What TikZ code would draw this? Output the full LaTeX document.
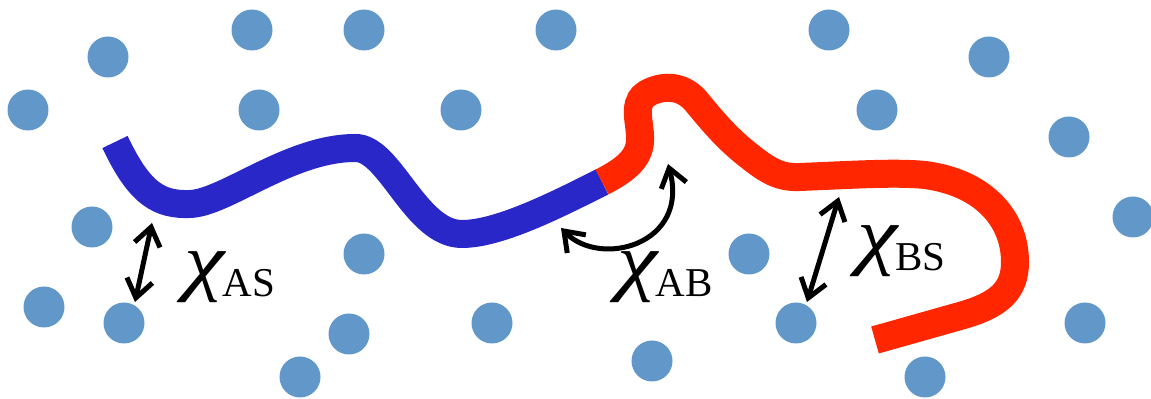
\documentclass[tikz,border=0pt]{standalone}
\usepackage{fontspec}
\setmainfont{Liberation Serif}
\usepackage{tikz}
\usetikzlibrary{arrows.meta,positioning}
\definecolor{Solvent}{HTML}{6297C9}
\definecolor{BlockA}{HTML}{2A27C9}
\definecolor{BlockB}{HTML}{FF2600}
\newcommand{\chilabel}[1]{\scalebox{1.2}[1]{\fontsize{38pt}{38pt}\selectfont\itshape χ}\kern-1pt\raisebox{-5pt}{\fontsize{20.5pt}{20.5pt}\selectfont #1}}

\begin{document}
\begin{tikzpicture}[
  x=0.5pt,y=-0.5pt,
  dot/.style={fill=Solvent},
  chain/.style={line width=14pt},
  arrow/.style={{Straight Barb[length=9pt,width=13pt]}-{Straight Barb[length=9pt,width=13pt]},line width=2.5pt,line cap=round,line join=round},
  lbl/.style={anchor=base west,inner sep=0pt}
]
\useasboundingbox (0,0) rectangle (1151,399);
% solvent beads
\foreach \px/\py in {28/110,108/57,252/30,364/30,556/30,259/110,461/110,
  829/30,989/57,877/110,1069/137,92/227,44/307,124/323,364/254,349/334,
  300/377,492/323,1133/217,749/254,796/323,652/361,925/377,1085/323}
  \fill[dot] (\px,\py) circle (20.5);
% block A
\draw[chain,draw=BlockA] (115,142) .. controls (140,195) and (160,205) .. (190,204)
  .. controls (225,203) and (290,148) .. (355,148)
  .. controls (390,147) and (415,234) .. (462,234)
  .. controls (500,234) and (560,203) .. (602,182);
% block B
\draw[chain,draw=BlockB] (602,182) .. controls (625,170) and (642,158) .. (640,135)
  .. controls (639,118) and (632,100) .. (650,92)
  .. controls (665,85) and (682,86) .. (695,100)
  .. controls (710,118) and (725,137) .. (748,155)
  .. controls (768,171) and (780,178) .. (800,177)
  .. controls (850,175) and (895,172) .. (925,175)
  .. controls (985,183) and (1015,220) .. (1015,262)
  .. controls (1015,290) and (1000,305) .. (960,316)
  -- (875,340);
% interaction arrows
\coordinate (as1) at (152,223);
\coordinate (as2) at (135,302);
\coordinate (ab1) at (561,228);
\coordinate (ab2) at (668,164);
\coordinate (bs1) at (839,197);
\coordinate (bs2) at (807,302);
\draw[arrow] (as1) -- (as2);
\draw[arrow] (ab1) .. controls (600,268) and (690,245) .. (ab2);
\draw[arrow] (bs1) -- (bs2);
\node[lbl] (chiAS) at (184,287) {\chilabel{AS}};
\node[lbl] (chiAB) at (617,287) {\chilabel{AB}};
\node[lbl] (chiBS) at (857,261) {\chilabel{BS}};
\end{tikzpicture}
\end{document}
